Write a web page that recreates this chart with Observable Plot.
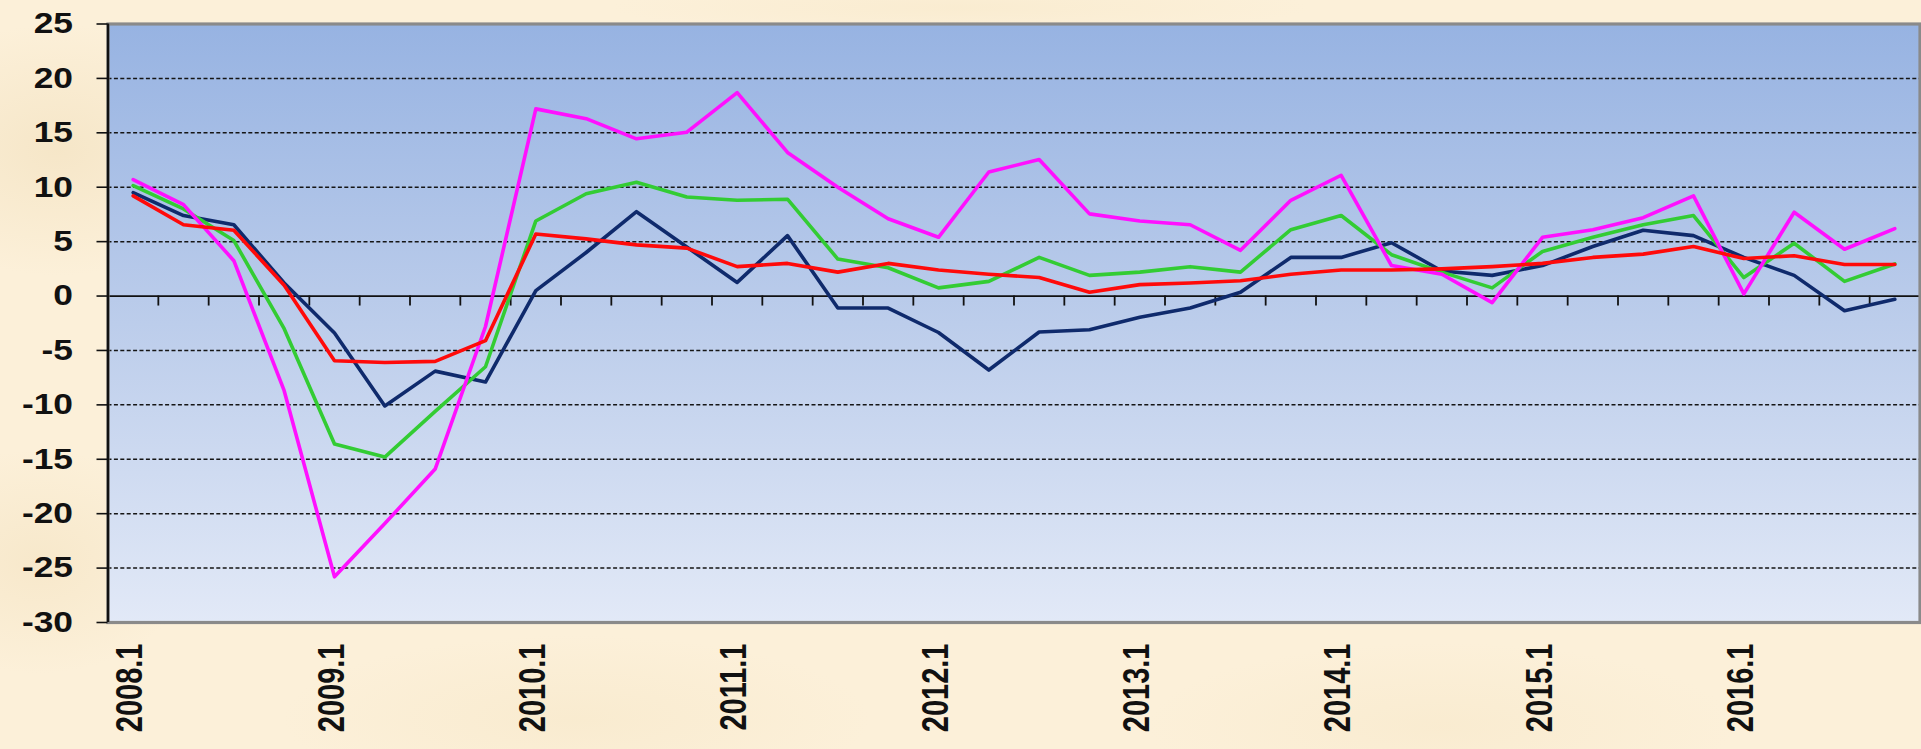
<!DOCTYPE html>
<html>
<head>
<meta charset="utf-8">
<script src="https://cdn.jsdelivr.net/npm/d3@7"></script>
<script src="https://cdn.jsdelivr.net/npm/@observablehq/plot@0.6"></script>
<style>
  html, body { margin: 0; padding: 0; overflow: hidden; }
  body {
    width: 1921px; height: 749px;
    background-color: #fcf0d9;
    background-image:
      radial-gradient(ellipse 260px 180px at 3% 20%, rgba(234,212,168,0.35), rgba(234,212,168,0) 70%),
      radial-gradient(ellipse 220px 160px at 2% 75%, rgba(236,214,170,0.30), rgba(236,214,170,0) 70%),
      radial-gradient(ellipse 420px 120px at 30% 96%, rgba(242,224,186,0.30), rgba(242,224,186,0) 70%),
      radial-gradient(ellipse 420px 120px at 75% 97%, rgba(242,224,186,0.28), rgba(242,224,186,0) 70%),
      radial-gradient(ellipse 500px 40px at 50% 1%, rgba(246,230,196,0.4), rgba(246,230,196,0) 70%);
  }
  #chart svg { display: block; }
</style>
</head>
<body>
<div id="chart"></div>
<script>
// ---- data ----
const years = [2008, 2009, 2010, 2011, 2012, 2013, 2014, 2015, 2016];
const quarters = [1, 2, 3, 4];
const periods = years.flatMap(y => quarters.map(q => `${y}.${q}`));

const seriesNavy = [9.5, 7.4, 6.55, 1.2, -3.4, -10.1, -6.9, -7.9, 0.5, 4.0, 7.75, 4.5, 1.25, 5.55, -1.1, -1.1,
  -3.35, -6.8, -3.3, -3.1, -1.95, -1.1, 0.35, 3.55, 3.55, 4.9, 2.3, 1.9, 2.8, 4.55, 6.05, 5.55, 3.55, 1.9, -1.35, -0.3];
const seriesGreen = [10.15, 8.0, 5.1, -3.0, -13.6, -14.8, -10.6, -6.5, 6.9, 9.4, 10.45, 9.1, 8.8, 8.9, 3.4, 2.6,
  0.75, 1.35, 3.55, 1.9, 2.2, 2.7, 2.2, 6.1, 7.4, 3.8, 2.2, 0.75, 4.1, 5.4, 6.55, 7.4, 1.7, 4.85, 1.35, 2.95];
const seriesMagenta = [10.7, 8.4, 3.25, -8.7, -25.8, -20.9, -15.9, -2.8, 17.2, 16.3, 14.45, 15.06, 18.7, 13.2, 10.0, 7.1,
  5.4, 11.4, 12.55, 7.55, 6.9, 6.55, 4.2, 8.8, 11.1, 2.8, 2.0, -0.6, 5.4, 6.1, 7.2, 9.2, 0.2, 7.7, 4.3, 6.2];
const seriesRed = [9.2, 6.55, 6.05, 1.0, -5.95, -6.1, -6.0, -4.1, 5.7, 5.25, 4.7, 4.4, 2.7, 3.0, 2.2, 3.0,
  2.4, 2.0, 1.7, 0.35, 1.05, 1.2, 1.4, 2.0, 2.4, 2.4, 2.5, 2.7, 3.0, 3.55, 3.85, 4.55, 3.45, 3.7, 2.9, 2.9];

const yTicks = [-30, -25, -20, -15, -10, -5, 0, 5, 10, 15, 20, 25];

// ---- derived helpers ----
const xDomain = [-0.5, periods.length - 0.5];
const bandBounds = periods.slice(1).map((p, i) => i + 0.5);
const labelIdx = periods.map((p, i) => i).filter(i => periods[i].endsWith(".1"));
const gridVals = yTicks.filter(v => v !== 0 && v !== yTicks[0] && v !== yTicks[yTicks.length - 1]);
const FONT = "'Liberation Sans', Arial, sans-serif";

const lineOpts = (color) => ({x: (d, i) => i, y: d => d, stroke: color, strokeWidth: 3.6, strokeLinejoin: "round", strokeLinecap: "round"});

const svg = Plot.plot({
  width: 1921,
  height: 749,
  marginLeft: 107.5,
  marginRight: 1.5,
  marginTop: 23.5,
  marginBottom: 127,
  style: {background: "transparent", color: "#111", fontFamily: FONT, fontWeight: "bold", fontSize: "29px", overflow: "visible"},
  x: {domain: xDomain},
  y: {domain: [yTicks[0], yTicks[yTicks.length - 1]]},
  marks: [
    Plot.frame({fill: "url(#plotbg)", stroke: "none"}),
    Plot.ruleY(gridVals, {stroke: "#151515", strokeWidth: 1.5, strokeDasharray: "4,2.4"}),
    Plot.ruleY([0], {stroke: "#111", strokeWidth: 1.8}),
    Plot.ruleX(bandBounds, {x: d => d, y1: 0, y2: 0, insetBottom: -10, stroke: "#111", strokeWidth: 1.8}),
    Plot.line(seriesNavy, lineOpts("#0f2a6c")),
    Plot.line(seriesGreen, lineOpts("#33cc33")),
    Plot.line(seriesMagenta, lineOpts("#ff10ff")),
    Plot.line(seriesRed, lineOpts("#ff0a0a")),
    Plot.frame({stroke: "#8a8a8a", strokeWidth: 3.2}),
    Plot.ruleX([xDomain[0]], {y1: yTicks[0], y2: yTicks[yTicks.length - 1], stroke: "#111", strokeWidth: 2.4}),
    Plot.axisY({ticks: yTicks, tickSize: 11, tickPadding: 24, strokeWidth: 1.6, tickFormat: d => String(d),
      fontSize: 29, fontWeight: "bold", fontFamily: FONT, label: null}),
    Plot.axisX({ticks: labelIdx, tickFormat: i => periods[i], tickRotate: -90, tickSize: 0, tickPadding: 21,
      fontSize: 29, fontWeight: "bold", fontFamily: FONT, label: null})
  ]
});

// gradient for the plotting area
const ns = "http://www.w3.org/2000/svg";
const defs = document.createElementNS(ns, "defs");
const grad = document.createElementNS(ns, "linearGradient");
grad.setAttribute("id", "plotbg");
grad.setAttribute("x1", "0"); grad.setAttribute("y1", "0");
grad.setAttribute("x2", "0"); grad.setAttribute("y2", "1");
[["0", "#97b3e2"], ["0.5", "#bccdeb"], ["1", "#e2e9f7"]].forEach(([o, c]) => {
  const s = document.createElementNS(ns, "stop");
  s.setAttribute("offset", o); s.setAttribute("stop-color", c);
  grad.appendChild(s);
});
defs.appendChild(grad);
svg.insertBefore(defs, svg.firstChild);

// stretch tick labels like the original picture (keeps Plot's em offsets)
function stretch(selector, sx, sy) {
  svg.querySelectorAll(selector).forEach(t => {
    const tr = t.getAttribute("transform") || "";
    const fix = (attr, s) => {
      const v = t.getAttribute(attr);
      if (v == null) return;
      if (/em$/.test(v)) t.setAttribute(attr, `${parseFloat(v) / s}em`);
      else t.setAttribute(attr, `${parseFloat(v) / s}`);
    };
    fix("x", sx); fix("y", sy);
    t.setAttribute("transform", `${tr} scale(${sx},${sy})`.trim());
  });
}
stretch('g[aria-label="y-axis tick label"] text', 1.22, 1);
stretch('g[aria-label="x-axis tick label"] text', 1, 1.3);

document.getElementById("chart").appendChild(svg);
</script>
</body>
</html>
